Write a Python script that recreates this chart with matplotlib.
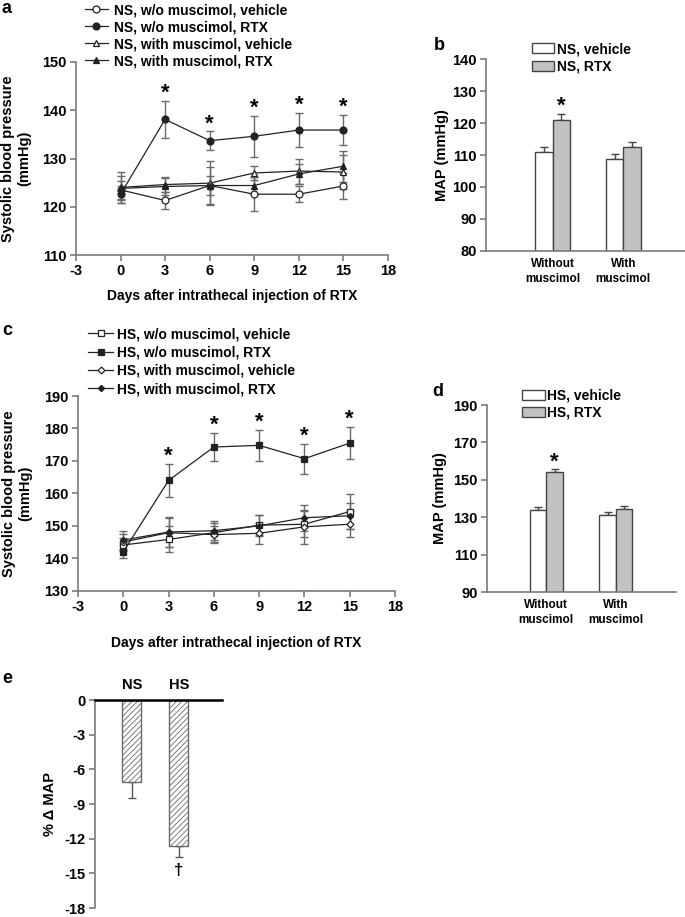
import matplotlib
matplotlib.use('Agg')
import matplotlib.pyplot as plt
import numpy as np

plt.rcParams['font.family'] = ['Liberation Sans', 'DejaVu Sans']
plt.rcParams['font.weight'] = 'bold'
plt.rcParams['axes.labelweight'] = 'bold'
plt.rcParams['axes.unicode_minus'] = False
plt.rcParams['hatch.linewidth'] = 0.6

# ---------------- data ----------------
days = [0, 3, 6, 9, 12, 15]

# panel a (NS)
a_labels = ['NS, w/o muscimol, vehicle', 'NS, w/o muscimol, RTX',
            'NS, with muscimol, vehicle', 'NS, with muscimol, RTX']
a_veh_wo = [123.5, 121.3, 124.4, 122.6, 122.6, 124.3]
a_veh_wo_err = [1.8, 1.8, 3.9, 3.5, 1.7, 2.7]
a_rtx_wo = [122.6, 138.1, 133.7, 134.6, 135.9, 135.9]
a_rtx_wo_err = [1.8, 3.8, 1.9, 4.2, 3.5, 3.1]
a_veh_w = [124.0, 124.6, 124.9, 127.0, 127.4, 127.2]
a_veh_w_err = [3.3, 1.5, 4.5, 1.5, 2.6, 3.6]
a_rtx_w = [123.8, 124.2, 124.4, 124.4, 126.8, 128.4]
a_rtx_w_err = [2.5, 1.8, 2.0, 1.8, 2.0, 3.2]
a_sig = [False, True, True, True, True, True]

# panel b (NS MAP)
bar_groups = ['Without\nmuscimol', 'With\nmuscimol']
b_labels = ['NS, vehicle', 'NS, RTX']
b_veh = [110.9, 108.8]
b_veh_err = [1.6, 1.5]
b_rtx = [121.0, 112.4]
b_rtx_err = [1.8, 1.7]
b_sig = [True, False]

# panel c (HS)
c_labels = ['HS, w/o muscimol, vehicle', 'HS, w/o muscimol, RTX',
            'HS, with muscimol, vehicle', 'HS, with muscimol, RTX']
c_veh_wo = [144.1, 145.8, 147.9, 150.2, 150.5, 154.4]
c_veh_wo_err = [2.0, 4.0, 3.0, 3.0, 4.0, 5.3]
c_rtx_wo = [142.0, 164.0, 174.3, 174.8, 170.7, 175.5]
c_rtx_wo_err = [2.0, 5.2, 4.4, 4.8, 4.6, 4.9]
c_veh_w = [145.0, 147.9, 147.3, 147.7, 149.7, 150.5]
c_veh_w_err = [2.5, 4.5, 2.5, 3.3, 5.2, 4.0]
c_rtx_w = [145.6, 148.1, 148.5, 150.0, 152.5, 153.1]
c_rtx_w_err = [2.8, 4.6, 3.0, 3.2, 4.0, 4.0]
c_sig = [False, True, True, True, True, True]

# panel d (HS MAP)
d_labels = ['HS, vehicle', 'HS, RTX']
d_veh = [133.9, 131.2]
d_veh_err = [1.7, 1.6]
d_rtx = [154.0, 134.4]
d_rtx_err = [1.6, 1.6]
d_sig = [True, False]

# panel e
e_cats = ['NS', 'HS']
e_vals = [-7.1, -12.6]
e_err = [1.4, 1.0]
e_sig = [False, True]

# ---------------- style ----------------
SPINE = '#7a7a7a'
LINE = '#222222'
ECOL = '#6a6a6a'
BAR_EDGE = '#444444'
BAR_GRAY = '#c2c2c2'
TICK_FS = 10.5

fig = plt.figure(figsize=(6.85, 9.17), dpi=100)


def bold_ticks(ax):
    for lbl in ax.get_xticklabels() + ax.get_yticklabels():
        lbl.set_fontweight('bold')


def style(ax, bottom_ticks=True):
    for s in ['top', 'right']:
        ax.spines[s].set_visible(False)
    for s in ['left', 'bottom']:
        ax.spines[s].set_color(SPINE)
        ax.spines[s].set_linewidth(1.2)
    ax.tick_params(axis='both', colors=SPINE, labelcolor='black', width=1.2,
                   length=4, labelsize=TICK_FS, pad=2.5)
    if not bottom_ticks:
        ax.tick_params(axis='x', length=0)


def line_panel(ax, series, sig_flags, ylim, yticks):
    for lab, m, e, mk, mfc, ms in series:
        ax.errorbar(days, m, yerr=e, fmt='none', ecolor=ECOL, elinewidth=1,
                    capsize=3, capthick=1, zorder=2)
    for lab, m, e, mk, mfc, ms in series:
        ax.plot(days, m, marker=mk, color=LINE, lw=0.9, mfc=mfc, mec=LINE,
                mew=0.9, ms=ms, label=lab, zorder=3)
    m, e = series[1][1], series[1][2]
    for i, s in enumerate(sig_flags):
        if s:
            ax.annotate('*', (days[i], m[i] + e[i]), xytext=(0, 1.5),
                        textcoords='offset points', ha='center', va='baseline',
                        fontsize=16, fontweight='bold')
    ax.set_xlim(-3, 18)
    ax.set_xticks(range(-3, 19, 3))
    ax.set_ylim(*ylim)
    ax.set_yticks(yticks)
    style(ax)
    bold_ticks(ax)


def bar_panel(ax, veh, veh_err, rtx, rtx_err, sig, labels, w, xlim, ylim, yticks):
    x = np.arange(1, len(veh) + 1)
    ax.bar(x - w / 2, veh, w, color='white', edgecolor=BAR_EDGE, lw=1, label=labels[0], zorder=2)
    ax.bar(x + w / 2, rtx, w, color=BAR_GRAY, edgecolor=BAR_EDGE, lw=1, label=labels[1], zorder=2)
    ax.errorbar(x - w / 2, veh, yerr=[np.zeros(len(veh)), veh_err], fmt='none',
                ecolor=BAR_EDGE, elinewidth=1, capsize=3, capthick=1, zorder=1)
    ax.errorbar(x + w / 2, rtx, yerr=[np.zeros(len(rtx)), rtx_err], fmt='none',
                ecolor=BAR_EDGE, elinewidth=1, capsize=3, capthick=1, zorder=1)
    for i, s in enumerate(sig):
        if s:
            ax.annotate('*', (x[i] + w / 2, rtx[i] + rtx_err[i]), xytext=(0, 1.5),
                        textcoords='offset points', ha='center', va='baseline',
                        fontsize=16, fontweight='bold')
    ax.set_xlim(*xlim)
    ax.set_ylim(*ylim)
    ax.set_yticks(yticks)
    ax.set_xticks(x)
    ax.set_xticklabels(bar_groups, linespacing=1.35)
    style(ax, bottom_ticks=False)
    ax.tick_params(axis='x', pad=5, labelsize=8.5)
    bold_ticks(ax)
    ax.set_ylabel('MAP (mmHg)', fontsize=10.5, va='center', fontweight='bold')


# ---------------- panel a ----------------
axa = fig.add_axes([0.1109, 0.7219, 0.4555, 0.2105])
series_a = [
    (a_labels[0], a_veh_wo, a_veh_wo_err, 'o', 'white', 5),
    (a_labels[1], a_rtx_wo, a_rtx_wo_err, 'o', LINE, 5),
    (a_labels[2], a_veh_w, a_veh_w_err, '^', 'white', 4.5),
    (a_labels[3], a_rtx_w, a_rtx_w_err, '^', LINE, 4),
]
line_panel(axa, series_a, a_sig, (110, 150), range(110, 151, 10))
axa.set_xlabel('Days after intrathecal injection of RTX', fontsize=10, va='center', fontweight='bold')
axa.xaxis.set_label_coords(0.5, -0.212)
axa.set_ylabel('Systolic blood pressure\n(mmHg)', fontsize=10.5, va='center', linespacing=1.2,
               fontweight='bold')
axa.yaxis.set_label_coords(-0.191, 0.5)
axa.legend(loc='upper left', bbox_to_anchor=(0.124, 0.9967), bbox_transform=fig.transFigure,
           frameon=False, fontsize=10, handlelength=1.65, handletextpad=0.45,
           labelspacing=0.22, borderpad=0, borderaxespad=0)

# ---------------- panel b ----------------
axb = fig.add_axes([0.7095, 0.7266, 0.2905, 0.2087])
bar_panel(axb, b_veh, b_veh_err, b_rtx, b_rtx_err, b_sig, b_labels, 0.248,
          (0.055, 2.874), (80, 140), range(80, 141, 10))
axb.yaxis.set_label_coords(-0.223, 0.5)
axb.legend(loc='upper left', bbox_to_anchor=(0.776, 0.954), bbox_transform=fig.transFigure,
           frameon=False, fontsize=10, handlelength=1.65, handletextpad=0.15,
           labelspacing=0.25, borderpad=0, borderaxespad=0)

# ---------------- panel c ----------------
axc = fig.add_axes([0.1139, 0.3558, 0.4628, 0.2123])
series_c = [
    (c_labels[0], c_veh_wo, c_veh_wo_err, 's', 'white', 5),
    (c_labels[1], c_rtx_wo, c_rtx_wo_err, 's', LINE, 5),
    (c_labels[2], c_veh_w, c_veh_w_err, 'D', 'white', 3.5),
    (c_labels[3], c_rtx_w, c_rtx_w_err, 'D', LINE, 3.2),
]
line_panel(axc, series_c, c_sig, (130, 190), range(130, 191, 10))
axc.set_xlabel('Days after intrathecal injection of RTX', fontsize=10, va='center', fontweight='bold')
axc.xaxis.set_label_coords(0.5, -0.269)
axc.set_ylabel('Systolic blood pressure\n(mmHg)', fontsize=10.5, va='center', linespacing=1.2,
               fontweight='bold')
axc.yaxis.set_label_coords(-0.192, 0.5)
axc.legend(loc='upper left', bbox_to_anchor=(0.1285, 0.6434), bbox_transform=fig.transFigure,
           frameon=False, fontsize=10, handlelength=1.8, handletextpad=0.3,
           labelspacing=0.32, borderpad=0, borderaxespad=0)

# ---------------- panel d ----------------
axd = fig.add_axes([0.7105, 0.3544, 0.2759, 0.2039])
bar_panel(axd, d_veh, d_veh_err, d_rtx, d_rtx_err, d_sig, d_labels, 0.237,
          (0.145, 2.857), (90, 190), range(90, 191, 20))
axd.yaxis.set_label_coords(-0.247, 0.5)
axd.legend(loc='upper left', bbox_to_anchor=(0.7616, 0.5758), bbox_transform=fig.transFigure,
           frameon=False, fontsize=10, handlelength=1.65, handletextpad=0.15,
           labelspacing=0.2, borderpad=0, borderaxespad=0)

# ---------------- panel e ----------------
axe = fig.add_axes([0.1387, 1 - 908 / 917, 0.185, (908 - 700) / 917])
xe = np.arange(1, len(e_vals) + 1)
axe.bar(xe, e_vals, 0.406, color='white', edgecolor='#6a6a6a', hatch='//////', lw=1, zorder=2)
axe.errorbar(xe, e_vals, yerr=[e_err, np.zeros(len(e_err))], fmt='none', ecolor='#555555',
             elinewidth=1, capsize=3, capthick=1, zorder=1)
axe.axhline(0, color='black', lw=1.8, clip_on=False, zorder=5)
for i, s in enumerate(e_sig):
    if s:
        axe.annotate('\u2020', (xe[i], e_vals[i] - e_err[i]), xytext=(0, -4),
                     textcoords='offset points', ha='center', va='top',
                     fontsize=12, fontweight='bold')
axe.set_xlim(0.21, 2.917)
axe.set_ylim(-18, 0)
axe.set_yticks(range(-18, 1, 3))
style(axe)
axe.spines['bottom'].set_visible(False)
axe.set_xticks(xe)
axe.set_xticklabels(e_cats)
axe.xaxis.set_ticks_position('top')
axe.tick_params(axis='x', length=0, pad=6, labelsize=10.5)
bold_ticks(axe)
axe.set_ylabel('% \u0394 MAP', fontsize=10.5, va='center', fontweight='bold')
axe.yaxis.set_label_coords(-0.355, 0.5)

# ---------------- panel letters ----------------
for txt, x, y in [('a', 2, 13), ('b', 434, 50), ('c', 2, 335), ('d', 432, 396), ('e', 2, 683)]:
    fig.text(x / 685, 1 - y / 917, txt, fontsize=13, fontweight='bold', va='baseline', ha='left')

fig.savefig('out.png', dpi=100)
